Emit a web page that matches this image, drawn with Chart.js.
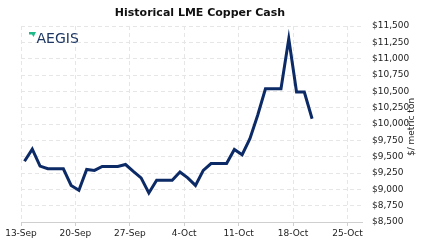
<!DOCTYPE html>
<html>
<head>
<meta charset="utf-8">
<script src="https://cdn.jsdelivr.net/npm/chart.js@4.4.1/dist/chart.umd.min.js"></script>
<style>
  html, body { margin: 0; padding: 0; background: #fff; }
  #wrap { width: 423px; height: 251px; position: relative; }
</style>
</head>
<body>
<div id="wrap"><canvas id="chart" width="423" height="251"></canvas></div>
<script>
// days since 13-Sep, one point per day
const days = [0, 1, 2, 3, 4, 5, 6, 7, 8, 9, 10, 11, 12, 13, 14, 15, 16, 17, 18,
  19, 20, 21, 22, 23, 24, 25, 26, 27, 28, 29, 30, 31, 32, 33, 34, 35, 36, 37];
const prices = [9430, 9615, 9355, 9315, 9315, 9315, 9060, 8985, 9305, 9290, 9350,
  9350, 9350, 9380, 9275, 9175, 8945, 9140, 9140, 9140, 9265, 9175, 9060, 9290,
  9395, 9395, 9395, 9610, 9530, 9775, 10135, 10540, 10540, 10540, 11305, 10490,
  10490, 10080];
const tickDays = [0, 7, 14, 21, 28, 35, 42];
const tickLabels = ['13-Sep', '20-Sep', '27-Sep', '4-Oct', '11-Oct', '18-Oct', '25-Oct'];
const pointOffset = 0.45; // prices are stamped late in the day

const gridColor = '#e6e6e6';
const labelFont = { family: 'DejaVu Sans', size: 9 };

// title, logo, solid base line and the rotated axis title
const decorations = {
  id: 'decorations',
  afterDraw(chart) {
    const ctx = chart.ctx;
    const area = chart.chartArea;
    ctx.save();
    ctx.strokeStyle = '#cfcfcf';
    ctx.lineWidth = 1;
    ctx.beginPath();
    ctx.moveTo(area.left, Math.round(area.bottom) + 0.5);
    ctx.lineTo(area.right, Math.round(area.bottom) + 0.5);
    ctx.stroke();

    ctx.fillStyle = '#111';
    ctx.font = 'bold 11px "DejaVu Sans"';
    ctx.textAlign = 'center';
    ctx.textBaseline = 'middle';
    ctx.fillText('Historical LME Copper Cash', 200, 13);

    // logo
    ctx.fillStyle = '#1fb889';
    ctx.beginPath();
    ctx.moveTo(29, 32);
    ctx.lineTo(36, 32);
    ctx.lineTo(33.5, 37);
    ctx.lineTo(32, 34.5);
    ctx.lineTo(29, 34.5);
    ctx.closePath();
    ctx.fill();
    ctx.fillStyle = '#1d3762';
    ctx.font = '500 14px "DejaVu Sans"';
    ctx.textAlign = 'left';
    ctx.textBaseline = 'alphabetic';
    ctx.fillText('AEGIS', 36.5, 42.5);

    // y axis title
    ctx.translate(412, 127);
    ctx.rotate(-Math.PI / 2);
    ctx.fillStyle = '#222';
    ctx.font = '9px "DejaVu Sans"';
    ctx.textAlign = 'center';
    ctx.textBaseline = 'middle';
    ctx.fillText('$/ metric ton', 0, 0);
    ctx.restore();
  }
};

new Chart(document.getElementById('chart'), {
  type: 'line',
  data: {
    datasets: [{
      data: days.map((d, i) => ({ x: d + pointOffset, y: prices[i] })),
      borderColor: '#0b2a66',
      borderWidth: 3,
      pointRadius: 0,
      tension: 0,
      fill: false
    }]
  },
  options: {
    responsive: false,
    animation: false,
    layout: { padding: { left: 21, top: 26, right: 0, bottom: 0 } },
    plugins: { legend: { display: false }, tooltip: { enabled: false } },
    scales: {
      x: {
        type: 'linear',
        min: 0,
        max: 44,
        afterBuildTicks: s => { s.ticks = tickDays.map(v => ({ value: v })); },
        afterFit: s => { s.height = 29; },
        grid: { color: gridColor, tickLength: 4, tickColor: '#cfcfcf', tickBorderDash: [] },
        border: { display: false, dash: [4, 3] },
        ticks: {
          padding: 2,
          maxRotation: 0,
          autoSkip: false,
          color: '#222',
          font: labelFont,
          callback: v => tickLabels[tickDays.indexOf(v)] || ''
        }
      },
      y: {
        position: 'right',
        min: 8500,
        max: 11500,
        afterFit: s => { s.width = 60; },
        grid: { color: gridColor, drawTicks: false },
        border: { display: false, dash: [4, 3] },
        ticks: {
          stepSize: 250,
          padding: 9,
          color: '#222',
          font: labelFont,
          callback: v => '$' + v.toLocaleString('en-US')
        }
      }
    }
  },
  plugins: [decorations]
});
</script>
</body>
</html>
